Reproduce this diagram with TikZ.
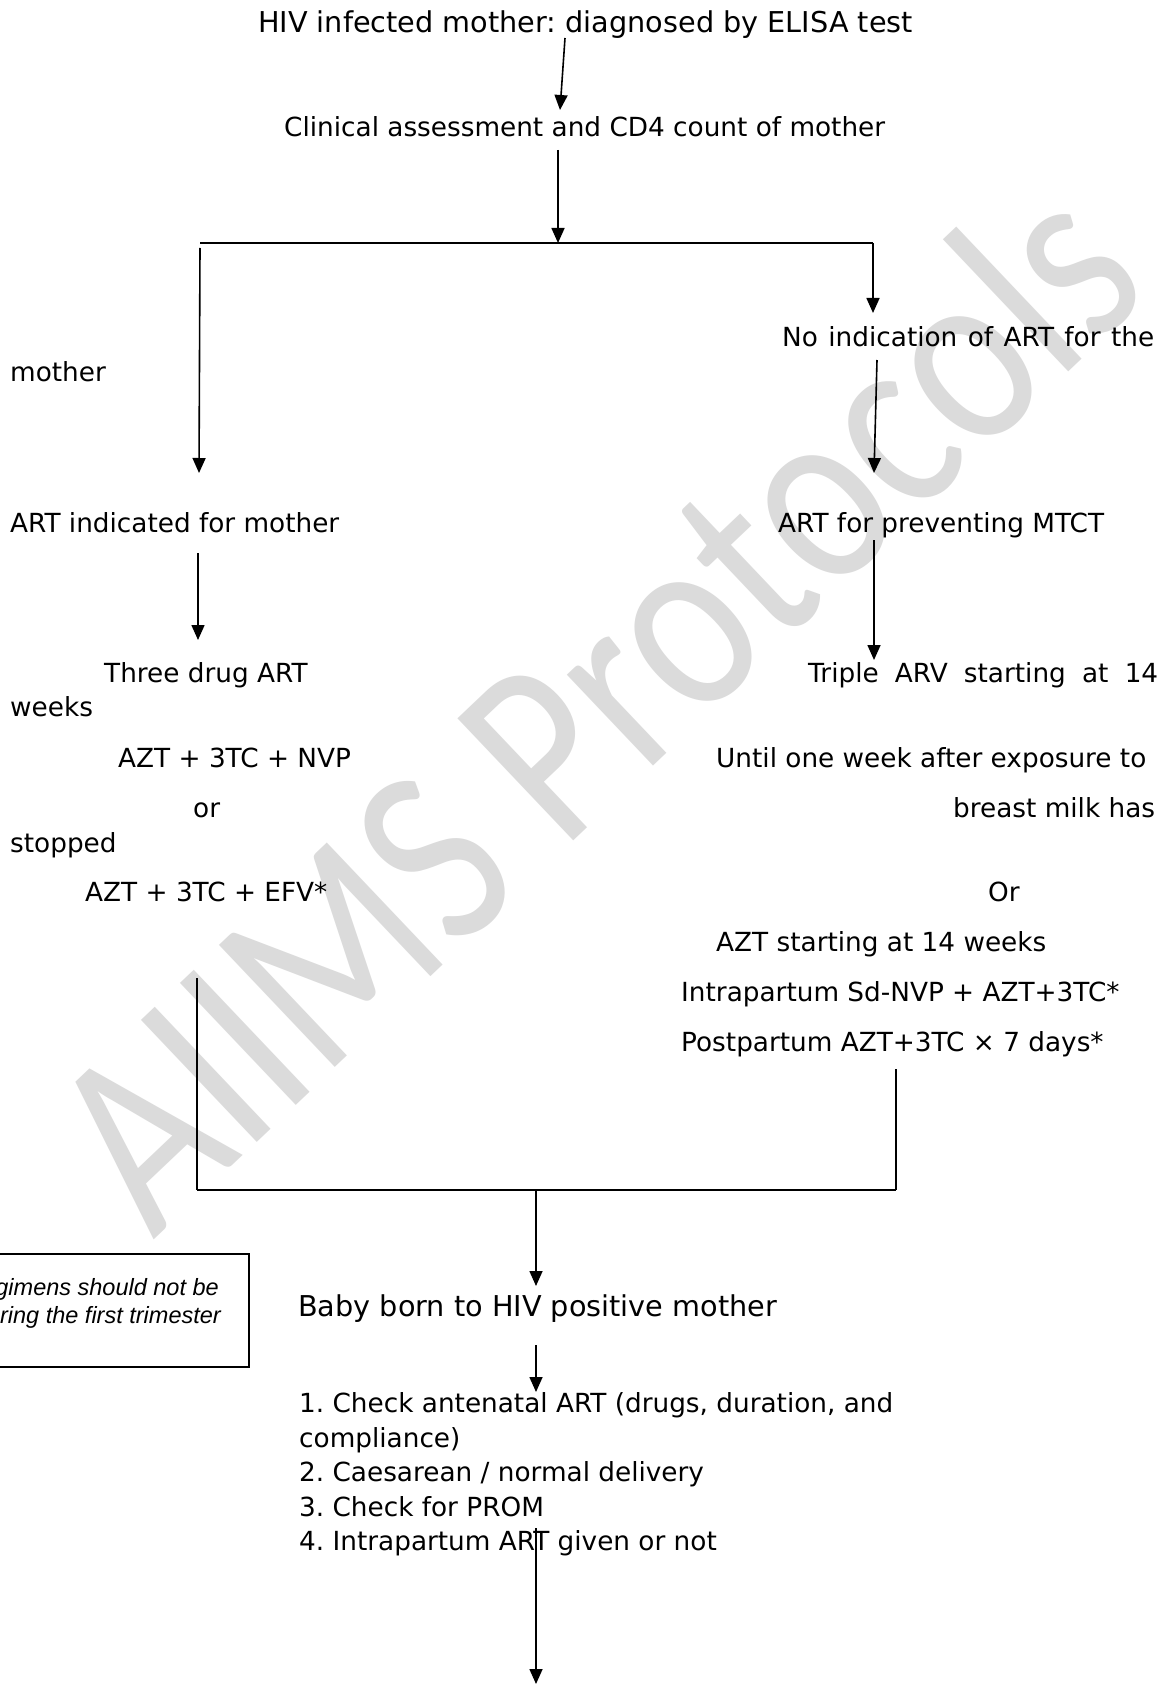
\documentclass[tikz,border=0pt]{standalone}
\usepackage{fontspec}
\setmainfont{DejaVu Sans}
\newfontfamily\arialfont{Liberation Sans}
\newfontfamily\wmfont{Carlito}
\usetikzlibrary{arrows.meta}
\frenchspacing
\tikzset{
  txt/.style={inner sep=0pt, anchor=base west, font=\fontsize{26.3}{30}\selectfont},
  bigtxt/.style={inner sep=0pt, anchor=base west, font=\fontsize{28.7}{33}\selectfont},
  conn/.style={line width=1.6pt, black},
  arr/.style={conn, -{Triangle[width=13pt,length=15pt]}},
  notebox/.style={draw, line width=2.4pt, minimum width=259pt, minimum height=113pt, inner sep=0pt},
  notetxt/.style={inner sep=0pt, anchor=base east, font=\arialfont\itshape\fontsize{23.5}{27}\selectfont},
  wmark/.style={inner sep=0pt, transform shape, text=black!14, font=\wmfont\fontsize{215}{220}\selectfont},
}
\begin{document}
\begin{tikzpicture}[x=1pt,y=-1pt]
\useasboundingbox (0,0) rectangle (1167,1685);
\clip (0,0) rectangle (1167,1685);
\fill[white] (0,0) rectangle (1167,1685);
% watermark
\begin{scope}[shift={(592,700)}, rotate=43.5, yscale=1.22]
\node[wmark] (wm) at (0,0) {AIIMS Protocols};
\end{scope}
% texts
\node[bigtxt] (t1) at (258,33) {HIV infected mother: diagnosed by ELISA test};
\node[txt] (t2) at (284,137) {Clinical assessment and CD4 count of mother};
\node[txt] (noind) at (782,346) {\makebox[372pt][s]{No indication of ART for the}};
\node[txt] (mother) at (10,381) {mother};
\node[txt] (artind) at (10,532) {ART indicated for mother};
\node[txt] (artprev) at (778,532) {ART for preventing MTCT};
\node[txt] (three) at (104,682) {Three drug ART};
\node[txt] (triple) at (808,682) {\makebox[350pt][s]{Triple ARV starting at 14}};
\node[txt] (weeks) at (10,716) {weeks};
\node[txt] (nvp) at (118,767) {AZT + 3TC + NVP};
\node[txt] (until) at (716,767) {Until one week after exposure to};
\node[txt] (or1) at (193,817) {or};
\node[txt] (breast) at (953,817) {breast milk has};
\node[txt] (stopped) at (10,852) {stopped};
\node[txt] (efv) at (85,901) {AZT + 3TC + EFV*};
\node[txt] (or2) at (988,901) {Or};
\node[txt] (azt) at (716,951) {AZT starting at 14 weeks};
\node[txt] (intra) at (681,1001) {Intrapartum Sd-NVP + AZT+3TC*};
\node[txt] (post) at (681,1051) {Postpartum AZT+3TC × 7 days*};
\node[bigtxt] (baby) at (298,1316) {Baby born to HIV positive mother};
\node[txt] (l1) at (299,1412) {1. Check antenatal ART (drugs, duration, and};
\node[txt] (l2) at (299,1447) {compliance)};
\node[txt] (l3) at (299,1481) {2. Caesarean / normal delivery};
\node[txt] (l4) at (299,1516) {3. Check for PROM};
\node[txt] (l5) at (299,1550) {4. Intrapartum ART given or not};
% note box
\node[notebox] (note) at (119.5,1310.5) {};
\node[notetxt] (n1) at (219,1295) {gimens should not be};
\node[notetxt] (n2) at (221,1323) {ring the first trimester};
% connector points
\coordinate (a1s) at (565,38);
\coordinate (a1e) at (560,110);
\coordinate (a2s) at (558,150);
\coordinate (a2e) at (558,243);
\coordinate (hl) at (200,243);
\coordinate (hr) at (873,243);
\coordinate (ls) at (200,248);
\coordinate (le) at (199,473);
\coordinate (re) at (873,313);
\coordinate (r2s) at (877,360);
\coordinate (r2e) at (874,473);
\coordinate (l2s) at (198,553);
\coordinate (l2e) at (198,640);
\coordinate (r3s) at (874,540);
\coordinate (r3e) at (874,660);
\coordinate (jl) at (197,978);
\coordinate (jlb) at (197,1190);
\coordinate (jr) at (896,1069);
\coordinate (jrb) at (896,1190);
\coordinate (jm) at (536,1190);
\coordinate (bt) at (536,1286);
\coordinate (b2s) at (536,1345);
\coordinate (b2e) at (536,1392);
\coordinate (b3s) at (536,1528);
\coordinate (b3e) at (536,1684);
% connectors
\draw[arr] (a1s) -- (a1e);
\draw[arr] (a2s) -- (a2e);
\draw[conn, line width=2pt] (hl) -- (hr);
\draw[arr] (ls) -- (le);
\draw[arr] (hr) -- (re);
\draw[arr] (r2s) -- (r2e);
\draw[arr] (l2s) -- (l2e);
\draw[arr] (r3s) -- (r3e);
\draw[conn] (jl) -- (jlb);
\draw[conn] (jr) -- (jrb);
\draw[conn, line width=2pt] (jlb) -- (jrb);
\draw[arr] (jm) -- (bt);
\draw[arr] (b2s) -- (b2e);
\draw[arr] (b3s) -- (b3e);
\end{tikzpicture}
\end{document}
